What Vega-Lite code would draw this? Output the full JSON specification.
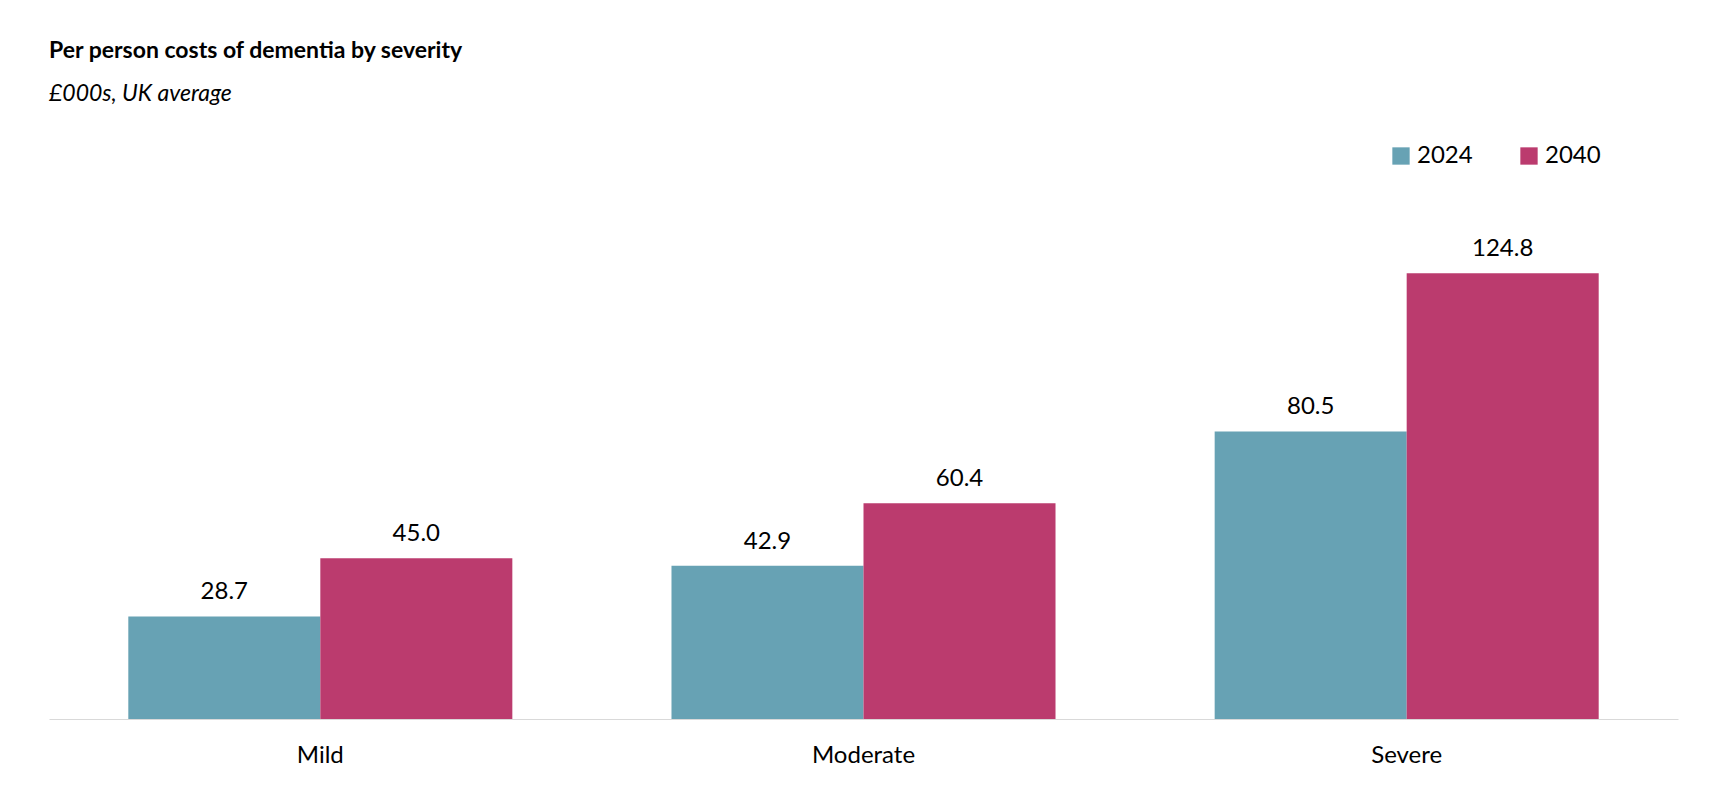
{
  "$schema": "https://vega.github.io/schema/vega-lite/v6.json",
  "width": 1629,
  "height": 543,
  "autosize": "none",
  "padding": {"left": 49, "top": 176, "right": 44, "bottom": 67},
  "background": "white",
  "title": {
    "text": "Per person costs of dementia by severity",
    "subtitle": "£000s, UK average",
    "anchor": "start",
    "frame": "group",
    "font": "Lato",
    "fontSize": 23,
    "fontWeight": "bold",
    "color": "black",
    "subtitleFont": "Lato",
    "subtitleFontSize": 23,
    "subtitleFontStyle": "italic",
    "subtitleColor": "black",
    "subtitlePadding": 20,
    "offset": 38
  },
  "config": {"view": {"stroke": null}, "font": "Lato"},
  "data": {
    "values": [
      {"severity": "Mild", "year": "2024", "cost": 28.7},
      {"severity": "Mild", "year": "2040", "cost": 45.0},
      {"severity": "Moderate", "year": "2024", "cost": 42.9},
      {"severity": "Moderate", "year": "2040", "cost": 60.4},
      {"severity": "Severe", "year": "2024", "cost": 80.5},
      {"severity": "Severe", "year": "2040", "cost": 124.8}
    ]
  },
  "encoding": {
    "x": {
      "field": "severity", "type": "nominal", "title": null,
      "scale": {"paddingInner": 0.293, "paddingOuter": 0.146},
      "axis": {"labelAngle": 0, "labelFontSize": 24, "labelColor": "black", "ticks": false, "domainColor": "#d9d9d9", "labelPadding": 24}
    },
    "xOffset": {"field": "year", "type": "nominal"},
    "y": {
      "field": "cost", "type": "quantitative", "scale": {"domain": [0, 152]}, "axis": null
    }
  },
  "layer": [
    {
      "mark": "bar",
      "encoding": {
        "color": {
          "field": "year", "type": "nominal", "title": null,
          "scale": {"domain": ["2024", "2040"], "range": ["#67a2b4", "#bb3b6e"]},
          "legend": {"orient": "none", "legendX": 1340, "legendY": -32, "direction": "horizontal", "symbolType": "square", "symbolSize": 300, "labelFontSize": 24, "labelColor": "black", "columnPadding": 44, "symbolOpacity": 1}
        }
      }
    },
    {
      "mark": {"type": "text", "dy": -24, "fontSize": 24, "color": "black"},
      "encoding": {"text": {"field": "cost", "type": "quantitative", "format": ".1f"}}
    }
  ]
}
